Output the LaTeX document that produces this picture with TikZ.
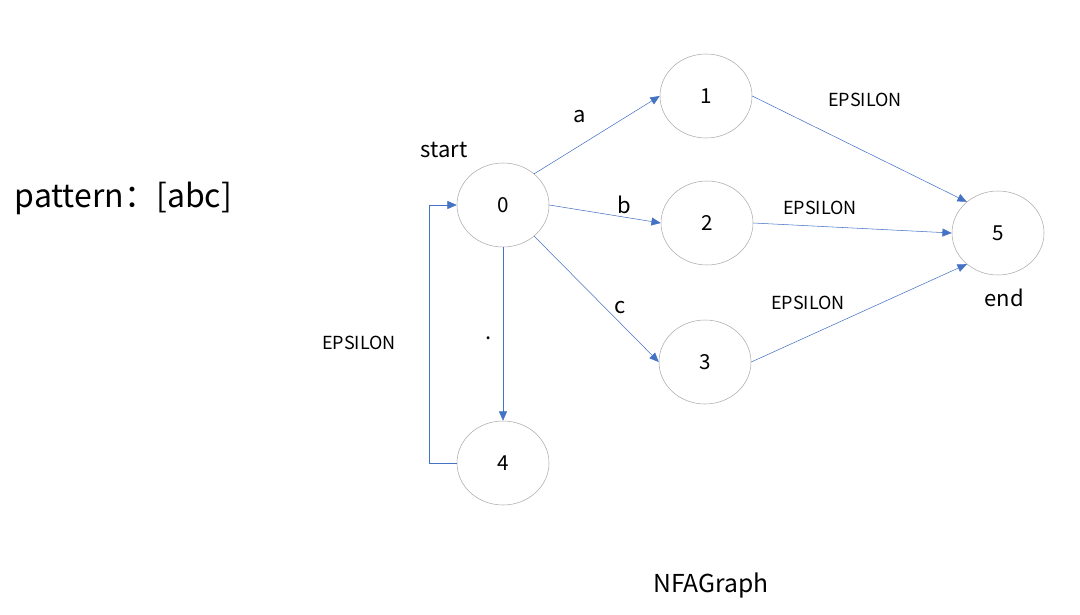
\documentclass[tikz,border=0pt]{standalone}
\usepackage{fontspec}
\setmainfont{Noto Sans CJK SC}
\usepackage{xcolor}
\usetikzlibrary{shapes.geometric, arrows.meta}

\definecolor{edgeblue}{RGB}{68,114,196}
\definecolor{stategray}{RGB}{170,170,170}

\begin{document}
\begin{tikzpicture}[x=0.75pt, y=-0.75pt,
		state/.style={ellipse, draw=stategray, minimum width=69pt, minimum height=63pt, inner sep=0pt, font=\fontsize{15.5}{18}\selectfont},
		trans/.style={draw=edgeblue, -{Triangle[length=7pt, width=6pt]}},
		lbl/.style={font=\fontsize{16.5}{19}\selectfont},
		eps/.style={font=\fontsize{13.5}{16}\selectfont}]
	\useasboundingbox (0,0) rectangle (1080,614);

	% states
	\node[state] (n0) at (503,205) {0};
	\node[state] (n1) at (706,96) {1};
	\node[state] (n2) at (707,223) {2};
	\node[state] (n3) at (705,362) {3};
	\node[state] (n4) at (503,463) {4};
	\node[state] (n5) at (998,233) {5};

	\begin{scope}[trans]
		\draw (n0.45) -- (n1.west);
		\draw (n0.east) -- (n2.west);
		\draw (n0.-45) -- (n3.west);
		\draw (n0.south) -- (n4.north);
		\draw (n4.west) -- ++(-27,0) |- (n0.west);

		\draw (n1.east) -- (n5.135);
		\draw (n2.east) -- (n5.west);
		\draw (n3.east) -- (n5.-135);
	\end{scope}

	% labels
	\node[font=\fontsize{24}{28}\selectfont, anchor=west] (pat) at (10,198) {pattern：[abc]};
	\node[lbl] (start) at (444,150) {start};
	\node[lbl] (end) at (1004,298) {end};
	\node[lbl] (la) at (580,117) {a};
	\node[lbl] (lb) at (624,205) {b};
	\node[lbl] (lc) at (620,308) {c};
	\node[lbl] (ldot) at (489,338) {.};

	\begin{scope}[eps]
		\node (e0) at (359,343) {EPSILON};
		\node (e1) at (865,100) {EPSILON};
		\node (e2) at (820,208) {EPSILON};
		\node (e3) at (808,303) {EPSILON};
	\end{scope}

	\node[font=\fontsize{18.5}{22}\selectfont] (title) at (711,585) {NFAGraph};
\end{tikzpicture}
\end{document}
